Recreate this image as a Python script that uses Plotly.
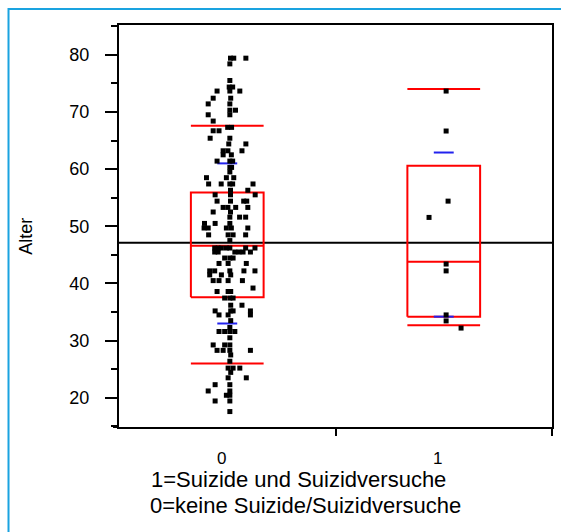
import plotly.graph_objects as go

# Ages per group (0 = keine Suizide/Suizidversuche, 1 = Suizide und Suizidversuche)
age_0 = [
    79.4, 79.4, 79.4, 78.4, 75.5, 74.35, 74.35, 73.65, 73.65, 73.65,
    72.4, 72.4, 71.4, 71.4, 70.3, 70.3, 69.5, 69.5, 68.4, 67.3,
    67.3, 66.7, 66.7, 65.4, 65.4, 64.4, 64.4, 63.2, 63.2, 63.2,
    62.5, 62.5, 61.4, 61.4, 61.4, 60.3, 60.3, 59.5, 58.5, 58.5,
    58.5, 57.4, 57.4, 57.4, 57.4, 57.4, 56.3, 56.3, 55.5, 55.5,
    55.5, 54.4, 54.4, 54.4, 54.4, 53.3, 53.3, 53.3, 53.3, 52.5,
    52.5, 51.6, 51.6, 51.6, 50.5, 50.5, 50.5, 49.7, 49.7, 49.7,
    49.7, 49.7, 48.5, 48.5, 48.5, 48.5, 47.5, 46.2, 46.2, 46.2,
    46.2, 46.2, 46.2, 46.2, 45.5, 45.5, 45.5, 45.5, 45.5, 45.5,
    44.45, 44.45, 44.45, 43.5, 43.5, 43.5, 42.2, 42.2, 42.2, 42.2,
    42.2, 41.5, 41.5, 41.5, 40.5, 40.5, 40.5, 40.5, 39.2, 38.6,
    38.6, 38.6, 37.45, 37.45, 37.45, 36.2, 36.2, 35.2, 35.2, 35.2,
    35.2, 34.5, 34.5, 34.5, 33.5, 32.3, 31.6, 31.6, 31.6, 31.6,
    30.5, 29.25, 29.25, 29.25, 28.3, 28.3, 28.3, 28.3, 27.5, 26.4,
    25.2, 25.2, 25.2, 24.45, 23.5, 23.5, 22.3, 22.3, 21.2, 21.2,
    20.45, 20.45, 19.45, 19.45, 17.6,
]
# Horizontal jitter of each point, in category units
jitter_0 = [
    0.015, 0.030, 0.086, 0.012, 0.012, 0.009, 0.025, -0.047, 0.012, 0.058,
    -0.065, 0.016, -0.088, 0.012, 0.012, 0.038, -0.088, 0.012, -0.065, 0.002,
    0.020, -0.065, -0.038, -0.079, 0.012, 0.007, 0.086, -0.019, 0.003, 0.068,
    -0.019, 0.019, -0.047, 0.012, 0.025, 0.012, 0.020, 0.012, -0.096, -0.004,
    0.030, -0.086, -0.028, 0.012, 0.025, 0.119, 0.015, 0.095, -0.056, 0.015,
    0.129, -0.047, 0.015, 0.076, 0.090, -0.019, 0.003, 0.039, 0.095, -0.065,
    0.015, 0.012, 0.057, 0.085, -0.105, -0.056, 0.012, -0.107, -0.088, -0.004,
    0.019, 0.095, -0.086, 0.004, 0.027, 0.085, 0.012, -0.058, -0.042, -0.027,
    -0.004, 0.012, 0.085, 0.128, -0.058, -0.042, 0.035, 0.054, 0.073, 0.107,
    -0.012, 0.012, 0.027, -0.038, 0.004, 0.088, -0.081, -0.058, 0.012, 0.077,
    0.128, -0.081, -0.027, 0.016, -0.065, -0.038, 0.004, 0.070, 0.119, -0.047,
    0.004, 0.016, -0.012, 0.012, 0.027, 0.016, 0.068, -0.056, 0.016, 0.027,
    0.107, -0.038, 0.004, 0.107, 0.016, 0.012, -0.038, -0.012, 0.012, 0.035,
    0.012, -0.065, -0.012, 0.012, -0.047, -0.019, 0.012, 0.107, 0.016, 0.012,
    0.004, 0.027, 0.058, 0.016, 0.004, 0.088, -0.056, 0.012, -0.088, 0.012,
    -0.004, 0.012, -0.056, 0.012, 0.012,
]

age_1 = [73.65, 66.66, 54.4, 51.55, 43.4, 42.2, 34.5, 33.45, 32.2]
jitter_1 = [0.011, 0.011, 0.020, -0.068, 0.011, 0.011, 0.011, 0.011, 0.080]

# Summary statistics per group: quantiles (10/25/50/75/90 %) and mean +/- SD
groups = [0, 1]
q10 = [26.0, 32.7]
q25 = [37.6, 34.2]
q50 = [46.6, 43.8]
q75 = [55.9, 60.6]
q90 = [67.6, 74.0]
mean_plus_sd = [61.0, 62.9]
mean_minus_sd = [33.0, 34.2]
grand_mean = 47.1

x_labels = ["0", "1"]
x_title_lines = ["1=Suizide und Suizidversuche", "0=keine Suizide/Suizidversuche"]
y_title = "Alter"

BOX_HALF = 0.168
SD_HALF = 0.046
RED = "#ff0000"
BLUE = "#2222ee"

fig = go.Figure()

# Grand mean line across the whole plot
fig.add_trace(go.Scatter(
    x=[-0.5, 1.5], y=[grand_mean, grand_mean], mode="lines",
    line=dict(color="black", width=2), hoverinfo="skip",
))

for g in groups:
    lo, hi = g - BOX_HALF, g + BOX_HALF
    # quantile box (25-75 %) with median
    fig.add_trace(go.Scatter(
        x=[lo, hi, hi, lo, lo],
        y=[q25[g], q25[g], q75[g], q75[g], q25[g]],
        mode="lines", line=dict(color=RED, width=2), hoverinfo="skip",
    ))
    for val in (q50[g], q10[g], q90[g]):
        fig.add_trace(go.Scatter(
            x=[lo, hi], y=[val, val], mode="lines",
            line=dict(color=RED, width=2), hoverinfo="skip",
        ))
    # standard deviation markers
    for val in (mean_plus_sd[g], mean_minus_sd[g]):
        fig.add_trace(go.Scatter(
            x=[g - SD_HALF, g + SD_HALF], y=[val, val], mode="lines",
            line=dict(color=BLUE, width=2), hoverinfo="skip",
        ))

# Jittered points
fig.add_trace(go.Scatter(
    x=[0 + j for j in jitter_0], y=age_0, mode="markers",
    marker=dict(symbol="square", size=5, color="black", line=dict(width=0)),
))
fig.add_trace(go.Scatter(
    x=[1 + j for j in jitter_1], y=age_1, mode="markers",
    marker=dict(symbol="square", size=5, color="black", line=dict(width=0)),
))

FONT = "Liberation Sans, Arial, sans-serif"

fig.update_layout(
    width=561, height=532,
    margin=dict(l=119, r=7, t=25, b=105),
    paper_bgcolor="white", plot_bgcolor="white",
    showlegend=False,
    font=dict(family=FONT, color="black", size=18),
    xaxis=dict(
        range=[-0.5, 1.5], showgrid=False, zeroline=False,
        showline=True, linecolor="black", linewidth=2, mirror=True,
        tickvals=[0.5, 1.5], ticktext=["", ""], ticks="outside",
        ticklen=7, tickwidth=2, tickcolor="black",
    ),
    yaxis=dict(
        range=[14.9, 85.2], showgrid=False, zeroline=False,
        showline=True, linecolor="black", linewidth=2, mirror=True,
        dtick=10, tick0=0, ticks="outside", ticklen=12, tickwidth=2,
        tickcolor="black", ticklabelstandoff=12,
        tickfont=dict(size=18, family=FONT),
        minor=dict(dtick=5, tick0=0, ticks="outside", ticklen=6,
                   tickwidth=2, tickcolor="black"),
    ),
)

annotations = []
for g, lab in zip(groups, x_labels):
    annotations.append(dict(
        x=g, y=-0.078, xref="x", yref="paper", text=lab, showarrow=False,
        xanchor="center", yanchor="middle", xshift=-6,
        font=dict(size=17, family=FONT),
    ))
annotations.append(dict(
    x=30 / 435, y=-0.1306, xref="paper", yref="paper", text=x_title_lines[0],
    showarrow=False, xanchor="left", yanchor="middle",
    font=dict(size=22, family=FONT),
))
annotations.append(dict(
    x=29 / 435, y=-0.1953, xref="paper", yref="paper", text=x_title_lines[1],
    showarrow=False, xanchor="left", yanchor="middle",
    font=dict(size=22, family=FONT),
))
annotations.append(dict(
    x=-0.214, y=0.474, xref="paper", yref="paper", text=y_title,
    showarrow=False, textangle=-90, xanchor="center", yanchor="middle",
    font=dict(size=18, family=FONT),
))
fig.update_layout(annotations=annotations)

# Bottom axis line runs slightly past the left axis; outer blue frame
fig.add_shape(type="line", xref="paper", yref="paper",
              x0=-6 / 435, x1=0, y0=0, y1=0,
              line=dict(color="black", width=2))
fig.add_shape(type="rect", xref="paper", yref="paper",
              x0=-111 / 435, x1=1.03, y0=-0.3, y1=1 + 16 / 402,
              line=dict(color="#1aa3e0", width=2))

fig.write_html("out.html")
